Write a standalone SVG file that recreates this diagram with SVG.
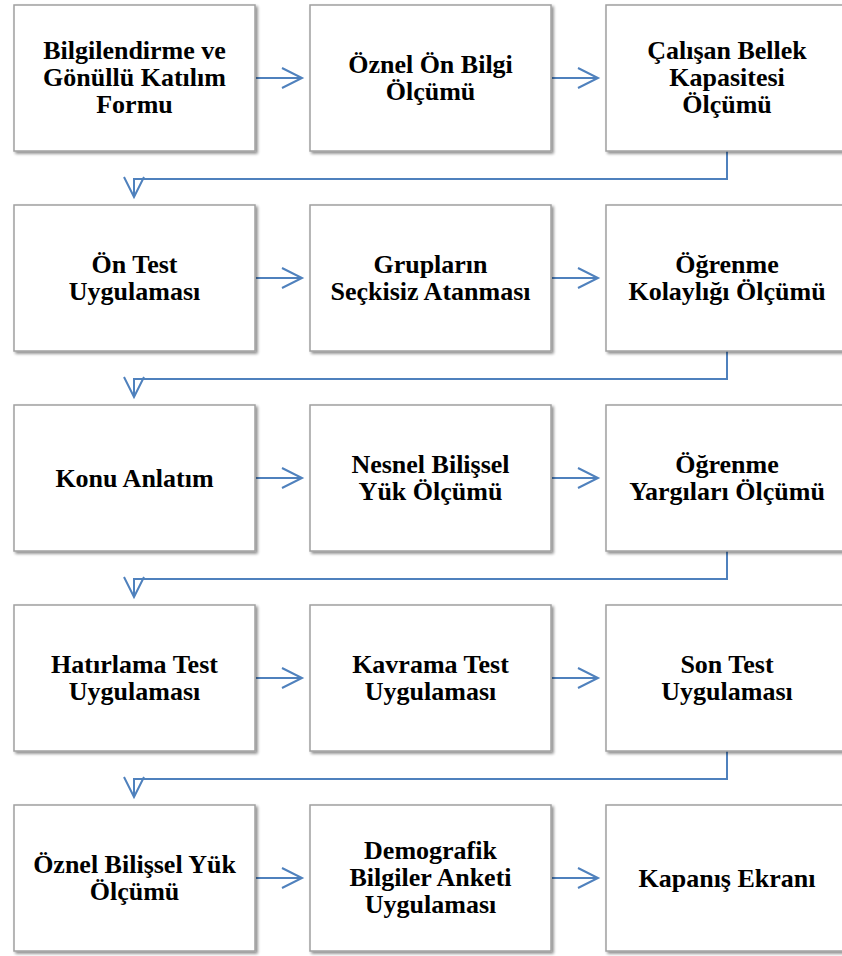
<svg xmlns="http://www.w3.org/2000/svg" width="842" height="956" viewBox="0 0 842 956">
<defs>
<style>
.box{fill:#fff;stroke:#a0a0a0;stroke-width:1.5;filter:url(#sh)}
.c{fill:none;stroke:#4f81bd;stroke-width:2}
.t{font-family:"Liberation Serif","Times New Roman",serif;font-weight:bold;font-size:26px;fill:#000;text-anchor:middle}
</style>
<filter id="sh" x="-10%" y="-10%" width="125%" height="125%">
<feGaussianBlur in="SourceAlpha" stdDeviation="1.5"/>
<feOffset dx="2" dy="2" result="b"/>
<feComponentTransfer><feFuncA type="linear" slope="0.45"/></feComponentTransfer>
<feMerge><feMergeNode/><feMergeNode in="SourceGraphic"/></feMerge>
</filter>
<marker id="ah" markerWidth="24" markerHeight="24" refX="20" refY="10" orient="auto" markerUnits="userSpaceOnUse" overflow="visible">
<path d="M0,0 L20,10 L0,20" fill="none" stroke="#4f81bd" stroke-width="2"/>
</marker>
</defs>
<rect width="842" height="956" fill="#fff"/>
<g id="connectors">
<line class="c" x1="256" y1="78" x2="302" y2="78" marker-end="url(#ah)"/>
<line class="c" x1="552" y1="78" x2="598" y2="78" marker-end="url(#ah)"/>
<polyline class="c" points="727,151 727,179 134,179 134,197" marker-end="url(#ah)"/>
<line class="c" x1="256" y1="278" x2="302" y2="278" marker-end="url(#ah)"/>
<line class="c" x1="552" y1="278" x2="598" y2="278" marker-end="url(#ah)"/>
<polyline class="c" points="727,351 727,379 134,379 134,397" marker-end="url(#ah)"/>
<line class="c" x1="256" y1="478" x2="302" y2="478" marker-end="url(#ah)"/>
<line class="c" x1="552" y1="478" x2="598" y2="478" marker-end="url(#ah)"/>
<polyline class="c" points="727,551 727,579 134,579 134,597" marker-end="url(#ah)"/>
<line class="c" x1="256" y1="678" x2="302" y2="678" marker-end="url(#ah)"/>
<line class="c" x1="552" y1="678" x2="598" y2="678" marker-end="url(#ah)"/>
<polyline class="c" points="727,751 727,779 134,779 134,797" marker-end="url(#ah)"/>
<line class="c" x1="256" y1="878" x2="302" y2="878" marker-end="url(#ah)"/>
<line class="c" x1="552" y1="878" x2="598" y2="878" marker-end="url(#ah)"/>
</g>
<g id="n1"><rect class="box" x="14" y="5" width="241" height="146"/><text class="t"><tspan x="134.5" y="59">Bilgilendirme ve</tspan><tspan x="134.5" y="86">Gönüllü Katılım</tspan><tspan x="134.5" y="113">Formu</tspan></text></g>
<g id="n2"><rect class="box" x="310" y="5" width="241" height="146"/><text class="t"><tspan x="430.5" y="72.5">Öznel Ön Bilgi</tspan><tspan x="430.5" y="99.5">Ölçümü</tspan></text></g>
<g id="n3"><rect class="box" x="606" y="5" width="241" height="146"/><text class="t"><tspan x="727" y="59">Çalışan Bellek</tspan><tspan x="727" y="86">Kapasitesi</tspan><tspan x="727" y="113">Ölçümü</tspan></text></g>
<g id="n4"><rect class="box" x="14" y="205" width="241" height="146"/><text class="t"><tspan x="134.5" y="272.5">Ön Test</tspan><tspan x="134.5" y="299.5">Uygulaması</tspan></text></g>
<g id="n5"><rect class="box" x="310" y="205" width="241" height="146"/><text class="t"><tspan x="430.5" y="272.5">Grupların</tspan><tspan x="430.5" y="299.5">Seçkisiz Atanması</tspan></text></g>
<g id="n6"><rect class="box" x="606" y="205" width="241" height="146"/><text class="t"><tspan x="727" y="272.5">Öğrenme</tspan><tspan x="727" y="299.5">Kolaylığı Ölçümü</tspan></text></g>
<g id="n7"><rect class="box" x="14" y="405" width="241" height="146"/><text class="t"><tspan x="134.5" y="486.5">Konu Anlatım</tspan></text></g>
<g id="n8"><rect class="box" x="310" y="405" width="241" height="146"/><text class="t"><tspan x="430.5" y="472.5">Nesnel Bilişsel</tspan><tspan x="430.5" y="499.5">Yük Ölçümü</tspan></text></g>
<g id="n9"><rect class="box" x="606" y="405" width="241" height="146"/><text class="t"><tspan x="727" y="472.5">Öğrenme</tspan><tspan x="727" y="499.5">Yargıları Ölçümü</tspan></text></g>
<g id="n10"><rect class="box" x="14" y="605" width="241" height="146"/><text class="t"><tspan x="134.5" y="672.5">Hatırlama Test</tspan><tspan x="134.5" y="699.5">Uygulaması</tspan></text></g>
<g id="n11"><rect class="box" x="310" y="605" width="241" height="146"/><text class="t"><tspan x="430.5" y="672.5">Kavrama Test</tspan><tspan x="430.5" y="699.5">Uygulaması</tspan></text></g>
<g id="n12"><rect class="box" x="606" y="605" width="241" height="146"/><text class="t"><tspan x="727" y="672.5">Son Test</tspan><tspan x="727" y="699.5">Uygulaması</tspan></text></g>
<g id="n13"><rect class="box" x="14" y="805" width="241" height="146"/><text class="t"><tspan x="134.5" y="872.5">Öznel Bilişsel Yük</tspan><tspan x="134.5" y="899.5">Ölçümü</tspan></text></g>
<g id="n14"><rect class="box" x="310" y="805" width="241" height="146"/><text class="t"><tspan x="430.5" y="859">Demografik</tspan><tspan x="430.5" y="886">Bilgiler Anketi</tspan><tspan x="430.5" y="913">Uygulaması</tspan></text></g>
<g id="n15"><rect class="box" x="606" y="805" width="241" height="146"/><text class="t"><tspan x="727" y="886.5">Kapanış Ekranı</tspan></text></g>
</svg>
